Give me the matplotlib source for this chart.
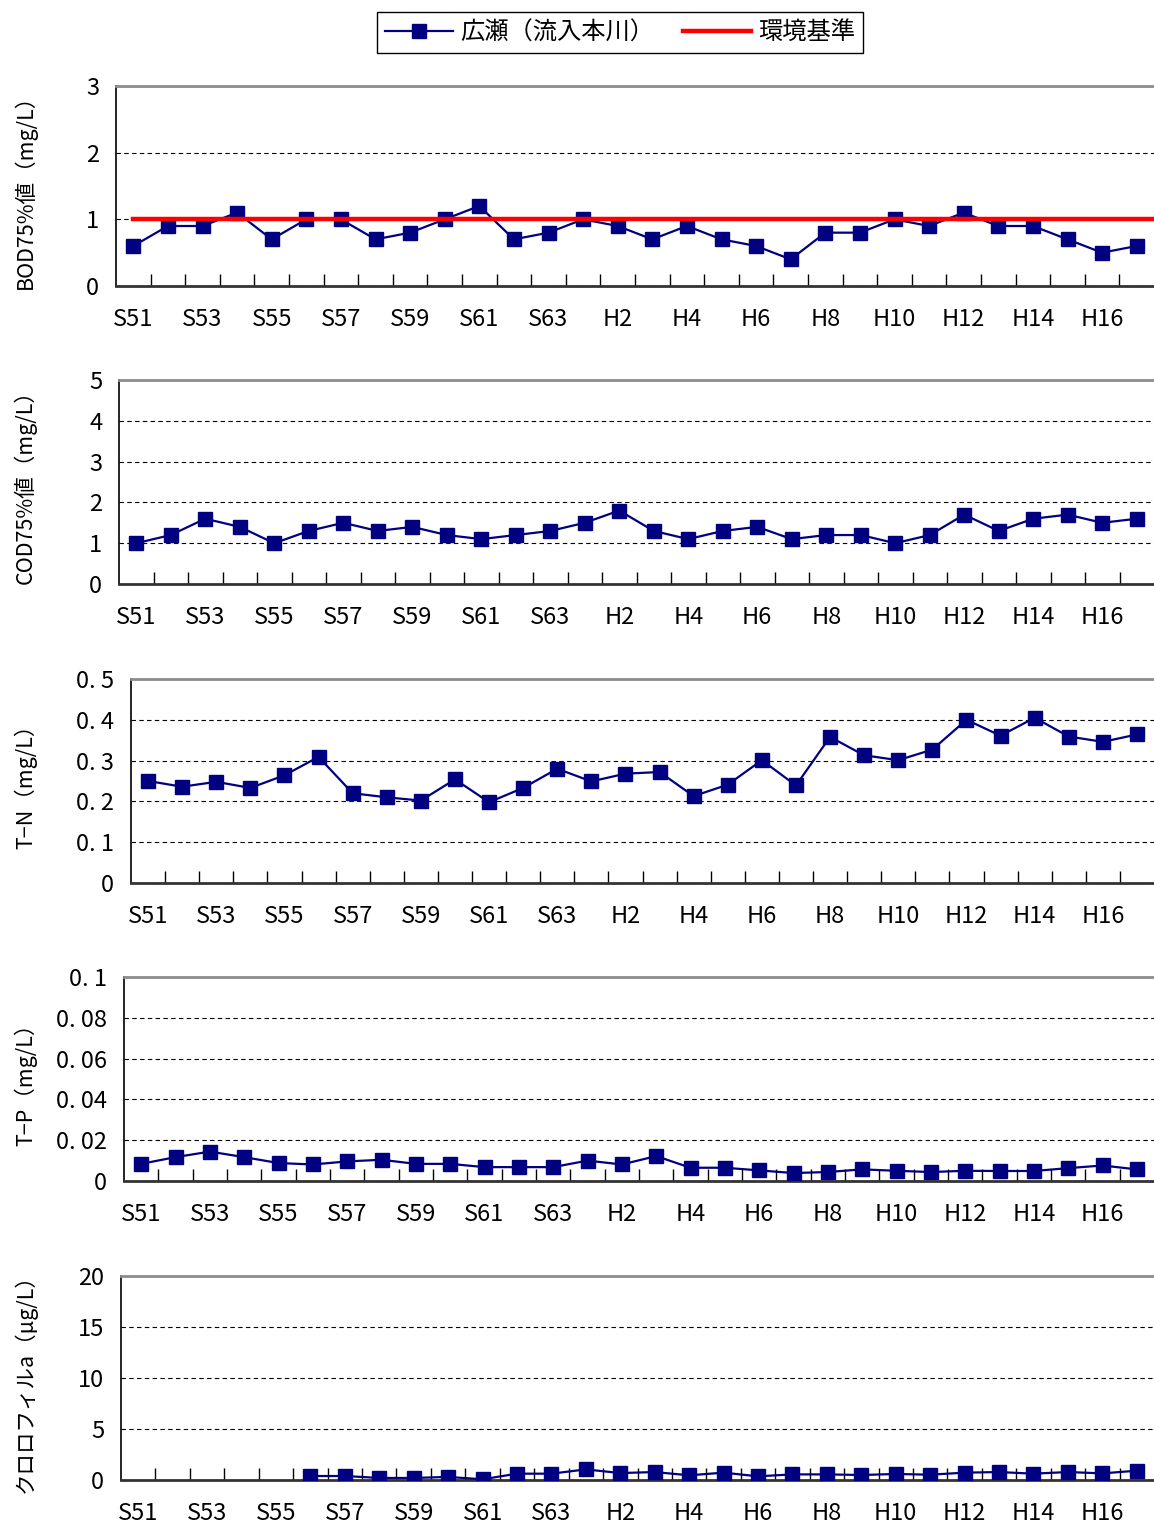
# 広瀬（流入本川）の水質経年変化
import numpy as np
import matplotlib
matplotlib.use('Agg')
import matplotlib.pyplot as plt
from matplotlib.lines import Line2D
from matplotlib.ticker import FixedLocator, FuncFormatter

plt.rcParams['font.family'] = ['Noto Sans CJK JP', 'DejaVu Sans']

# 年度（S51〜S63, H1〜H17）
years = [f'S{y}' for y in range(51, 64)] + [f'H{y}' for y in range(1, 18)]

bod = [0.6, 0.9, 0.9, 1.1, 0.7, 1.0, 1.0, 0.7, 0.8, 1.0, 1.2, 0.7, 0.8, 1.0, 0.9,
       0.7, 0.9, 0.7, 0.6, 0.4, 0.8, 0.8, 1.0, 0.9, 1.1, 0.9, 0.9, 0.7, 0.5, 0.6]
cod = [1.0, 1.2, 1.6, 1.4, 1.0, 1.3, 1.5, 1.3, 1.4, 1.2, 1.1, 1.2, 1.3, 1.5, 1.8,
       1.3, 1.1, 1.3, 1.4, 1.1, 1.2, 1.2, 1.0, 1.2, 1.7, 1.3, 1.6, 1.7, 1.5, 1.6]
tn = [0.250, 0.236, 0.248, 0.233, 0.264, 0.309, 0.220, 0.210, 0.202, 0.254,
      0.198, 0.233, 0.280, 0.249, 0.268, 0.272, 0.213, 0.241, 0.301, 0.239,
      0.358, 0.313, 0.301, 0.327, 0.400, 0.361, 0.405, 0.359, 0.346, 0.364]
tp = [0.0084, 0.0117, 0.0144, 0.0117, 0.0088, 0.0081, 0.0096, 0.0104, 0.0084, 0.0084,
      0.0068, 0.0068, 0.0068, 0.0100, 0.0081, 0.0122, 0.0065, 0.0065, 0.0052, 0.0039,
      0.0044, 0.0057, 0.0050, 0.0044, 0.0050, 0.0049, 0.0049, 0.0063, 0.0076, 0.0057]
chla = [None, None, None, None, None, 0.39, 0.39, 0.20, 0.20, 0.30,
        0.07, 0.62, 0.62, 1.04, 0.68, 0.78, 0.46, 0.72, 0.36, 0.55,
        0.55, 0.49, 0.59, 0.52, 0.72, 0.78, 0.62, 0.78, 0.65, 0.91]

bod_standard = 1.0  # 環境基準

panels = [
    # (値, y上限, y刻み, ラベル, 左端px, 上端px, 下端px)
    (bod, 3, 1, 'BOD75%値（mg/L）', 116, 86, 286),
    (cod, 5, 1, 'COD75%値（mg/L）', 119, 380, 584),
    (tn, 0.5, 0.1, 'T−N（mg/L）', 131, 679, 883),
    (tp, 0.1, 0.02, 'T−P（mg/L）', 124, 977, 1181),
    (chla, 20, 5, 'クロロフィルa（μg/L）', 121, 1276, 1480),
]

W, H = 1154, 1530
fig = plt.figure(figsize=(W / 100, H / 100), dpi=100)
navy = '#000080'
x = np.arange(len(years))


def fmt(v, pos):
    if abs(v) < 1e-12:
        return '0'
    return f'{v:g}'.replace('.', '. ')


for i, (vals, ymax, step, label, lpx, tpx, bpx) in enumerate(panels):
    ax = fig.add_axes([lpx / W, 1 - bpx / H, (W - lpx) / W, (bpx - tpx) / H])
    y = np.array([np.nan if v is None else v for v in vals], dtype=float)
    ax.plot(x, y, color=navy, lw=1.6, marker='s', ms=9.5, mfc=navy, mec=navy, zorder=3)
    if i == 0:
        ax.plot([x[0], len(x) - 0.5], [bod_standard, bod_standard],
                color='#ff0000', lw=3.2, zorder=4, clip_on=False)

    ax.set_xlim(-0.5, len(x) - 0.5)
    ax.set_ylim(0, ymax)
    yt = np.round(np.arange(0, ymax + step / 2, step), 6)
    ax.yaxis.set_major_locator(FixedLocator(yt))
    ax.yaxis.set_major_formatter(FuncFormatter(fmt))
    ax.yaxis.grid(True, linestyle=(0, (4, 3)), color='black', lw=0.8)
    ax.set_axisbelow(True)

    ax.set_xticks(x[::2])
    ax.set_xticklabels(years[::2])
    ax.set_xticks(np.arange(0.5, len(x) - 0.5, 1), minor=True)
    ax.tick_params(axis='x', which='major', length=0, pad=16, labelsize=17)
    ax.tick_params(axis='x', which='minor', direction='in', length=9, width=1, color='black')
    ax.tick_params(axis='y', length=0, pad=12, labelsize=17)

    ax.spines['right'].set_visible(False)
    ax.spines['top'].set_color('#8c8c8c')
    ax.spines['top'].set_linewidth(2)
    ax.spines['left'].set_color('black')
    ax.spines['left'].set_linewidth(1.2)
    ax.spines['bottom'].set_color('#333333')
    ax.spines['bottom'].set_linewidth(2)

    ax.set_ylabel(label, fontsize=15.5)
    ax.yaxis.set_label_coords((37 - lpx) / (W - lpx), 0.5)

handles = [Line2D([], [], color=navy, lw=1.6, marker='s', ms=9.5),
           Line2D([], [], color='#ff0000', lw=3.2)]
fig.legend(handles, ['広瀬（流入本川）', '環境基準'], loc='upper center',
           bbox_to_anchor=(620 / W, 1 - 12 / H), ncol=2, fontsize=17.5,
           frameon=True, fancybox=False, edgecolor='black', framealpha=1,
           handlelength=2.8, columnspacing=1.2, handletextpad=0.3,
           borderpad=0.3, borderaxespad=0)

fig.savefig('out.png', dpi=100)
